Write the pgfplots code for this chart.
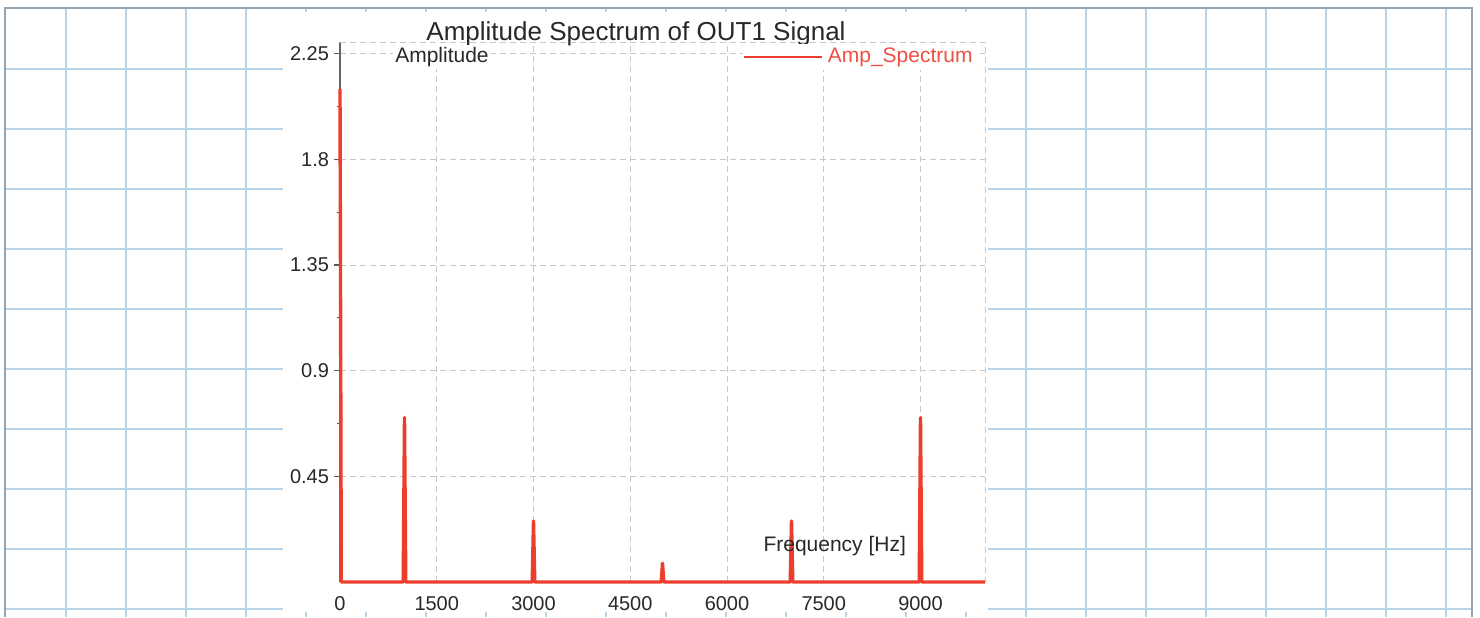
\documentclass[border=0pt]{standalone}
\usepackage{fontspec}
\setmainfont{Liberation Sans}
\usepackage{pgfplots}
\pgfplotsset{compat=1.18}
\usepackage{pgfplotstable}
\definecolor{paperblue}{RGB}{184,212,232}
\definecolor{framegray}{RGB}{150,165,178}
\definecolor{spec}{RGB}{236,62,46}
\definecolor{gridgray}{RGB}{200,200,200}
\definecolor{txt}{RGB}{40,40,40}

\pgfplotstableread{
f a
0 2.10
20 0
980 0
1000 0.70
1020 0
2980 0
3000 0.26
3020 0
4980 0
5000 0.08
5020 0
6980 0
7000 0.26
7020 0
8980 0
9000 0.70
9020 0
10000 0
}\spectrum

\begin{document}
\begin{tikzpicture}[x=0.5pt,y=0.5pt]
\useasboundingbox (0,0) rectangle (1480,617);
\fill[white] (0,0) rectangle (1480,617);
\foreach \x in {66,126,...,1446} \draw[paperblue, line width=0.7pt] (\x,0) -- (\x,609);
\foreach \y in {8,68,...,548} \draw[paperblue, line width=0.7pt] (5,\y) -- (1472,\y);
\draw[framegray, line width=1.3pt] (5,0) -- (5,609) -- (1472,609) -- (1472,0);
\fill[white] (283,5) rectangle (988,605);
\node[anchor=base, inner sep=0pt, font=\fontsize{13}{15}\selectfont, text=txt] at (636,576) {Amplitude Spectrum of OUT1 Signal};
\begin{axis}[
  at={(170pt,17.5pt)}, anchor=south west,
  scale only axis, width=322.5pt, height=270pt,
  xmin=0, xmax=10000, ymin=0, ymax=2.3,
  clip=false,
  axis lines=left,
  axis line style={-, draw=black!60, line width=0.8pt},
  xtick={0,1500,3000,4500,6000,7500,9000},
  xticklabels={0,1500,3000,4500,6000,7500,9000},
  ytick={0.45,0.9,1.35,1.8,2.25},
  yticklabels={0.45,0.9,1.35,1.8,2.25},
  minor y tick num=1,
  grid=major,
  grid style={gridgray, dash pattern=on 3pt off 2pt, line width=0.5pt},
  tick align=outside, major tick length=3pt, minor tick length=1.5pt,
  xtick style={draw=none},
  ytick style={black!65, line width=0.6pt},
  tick label style={font=\fontsize{10}{12}\selectfont, text=txt},
  /pgf/number format/assume math mode=true,
  yticklabel style={xshift=1pt},
  xticklabel style={inner sep=1pt, yshift=-3.1pt},
  ylabel={Amplitude},
  y label style={at={(axis description cs:0.082,0.972)}, rotate=-90, anchor=west,
    font=\fontsize{10.5}{12}\selectfont, text=txt, fill=white, inner sep=1pt},
  xlabel={Frequency [Hz]},
  x label style={at={(axis description cs:0.767,0.067)}, anchor=center,
    font=\fontsize{10.5}{12}\selectfont, text=txt, inner sep=1pt},
  legend style={draw=none, fill=white, at={(axis description cs:1,1)}, anchor=east,
    xshift=-4pt, yshift=-7.5pt, inner sep=0pt,
    font=\fontsize{10.5}{12}\selectfont, text=spec!90},
  legend cell align=left,
  legend image code/.code={\draw[spec, line width=1.4pt] (0pt,0pt) -- (39pt,0pt);},
]
\draw[gridgray, dash pattern=on 3pt off 2pt, line width=0.5pt]
  (rel axis cs:0,1) -- (rel axis cs:1,1) -- (rel axis cs:1,0);
\addplot[spec, line width=1.7pt, line join=round] table[x=f, y=a] {\spectrum};
\addlegendentry{Amp\_Spectrum}
\end{axis}
\end{tikzpicture}
\end{document}
